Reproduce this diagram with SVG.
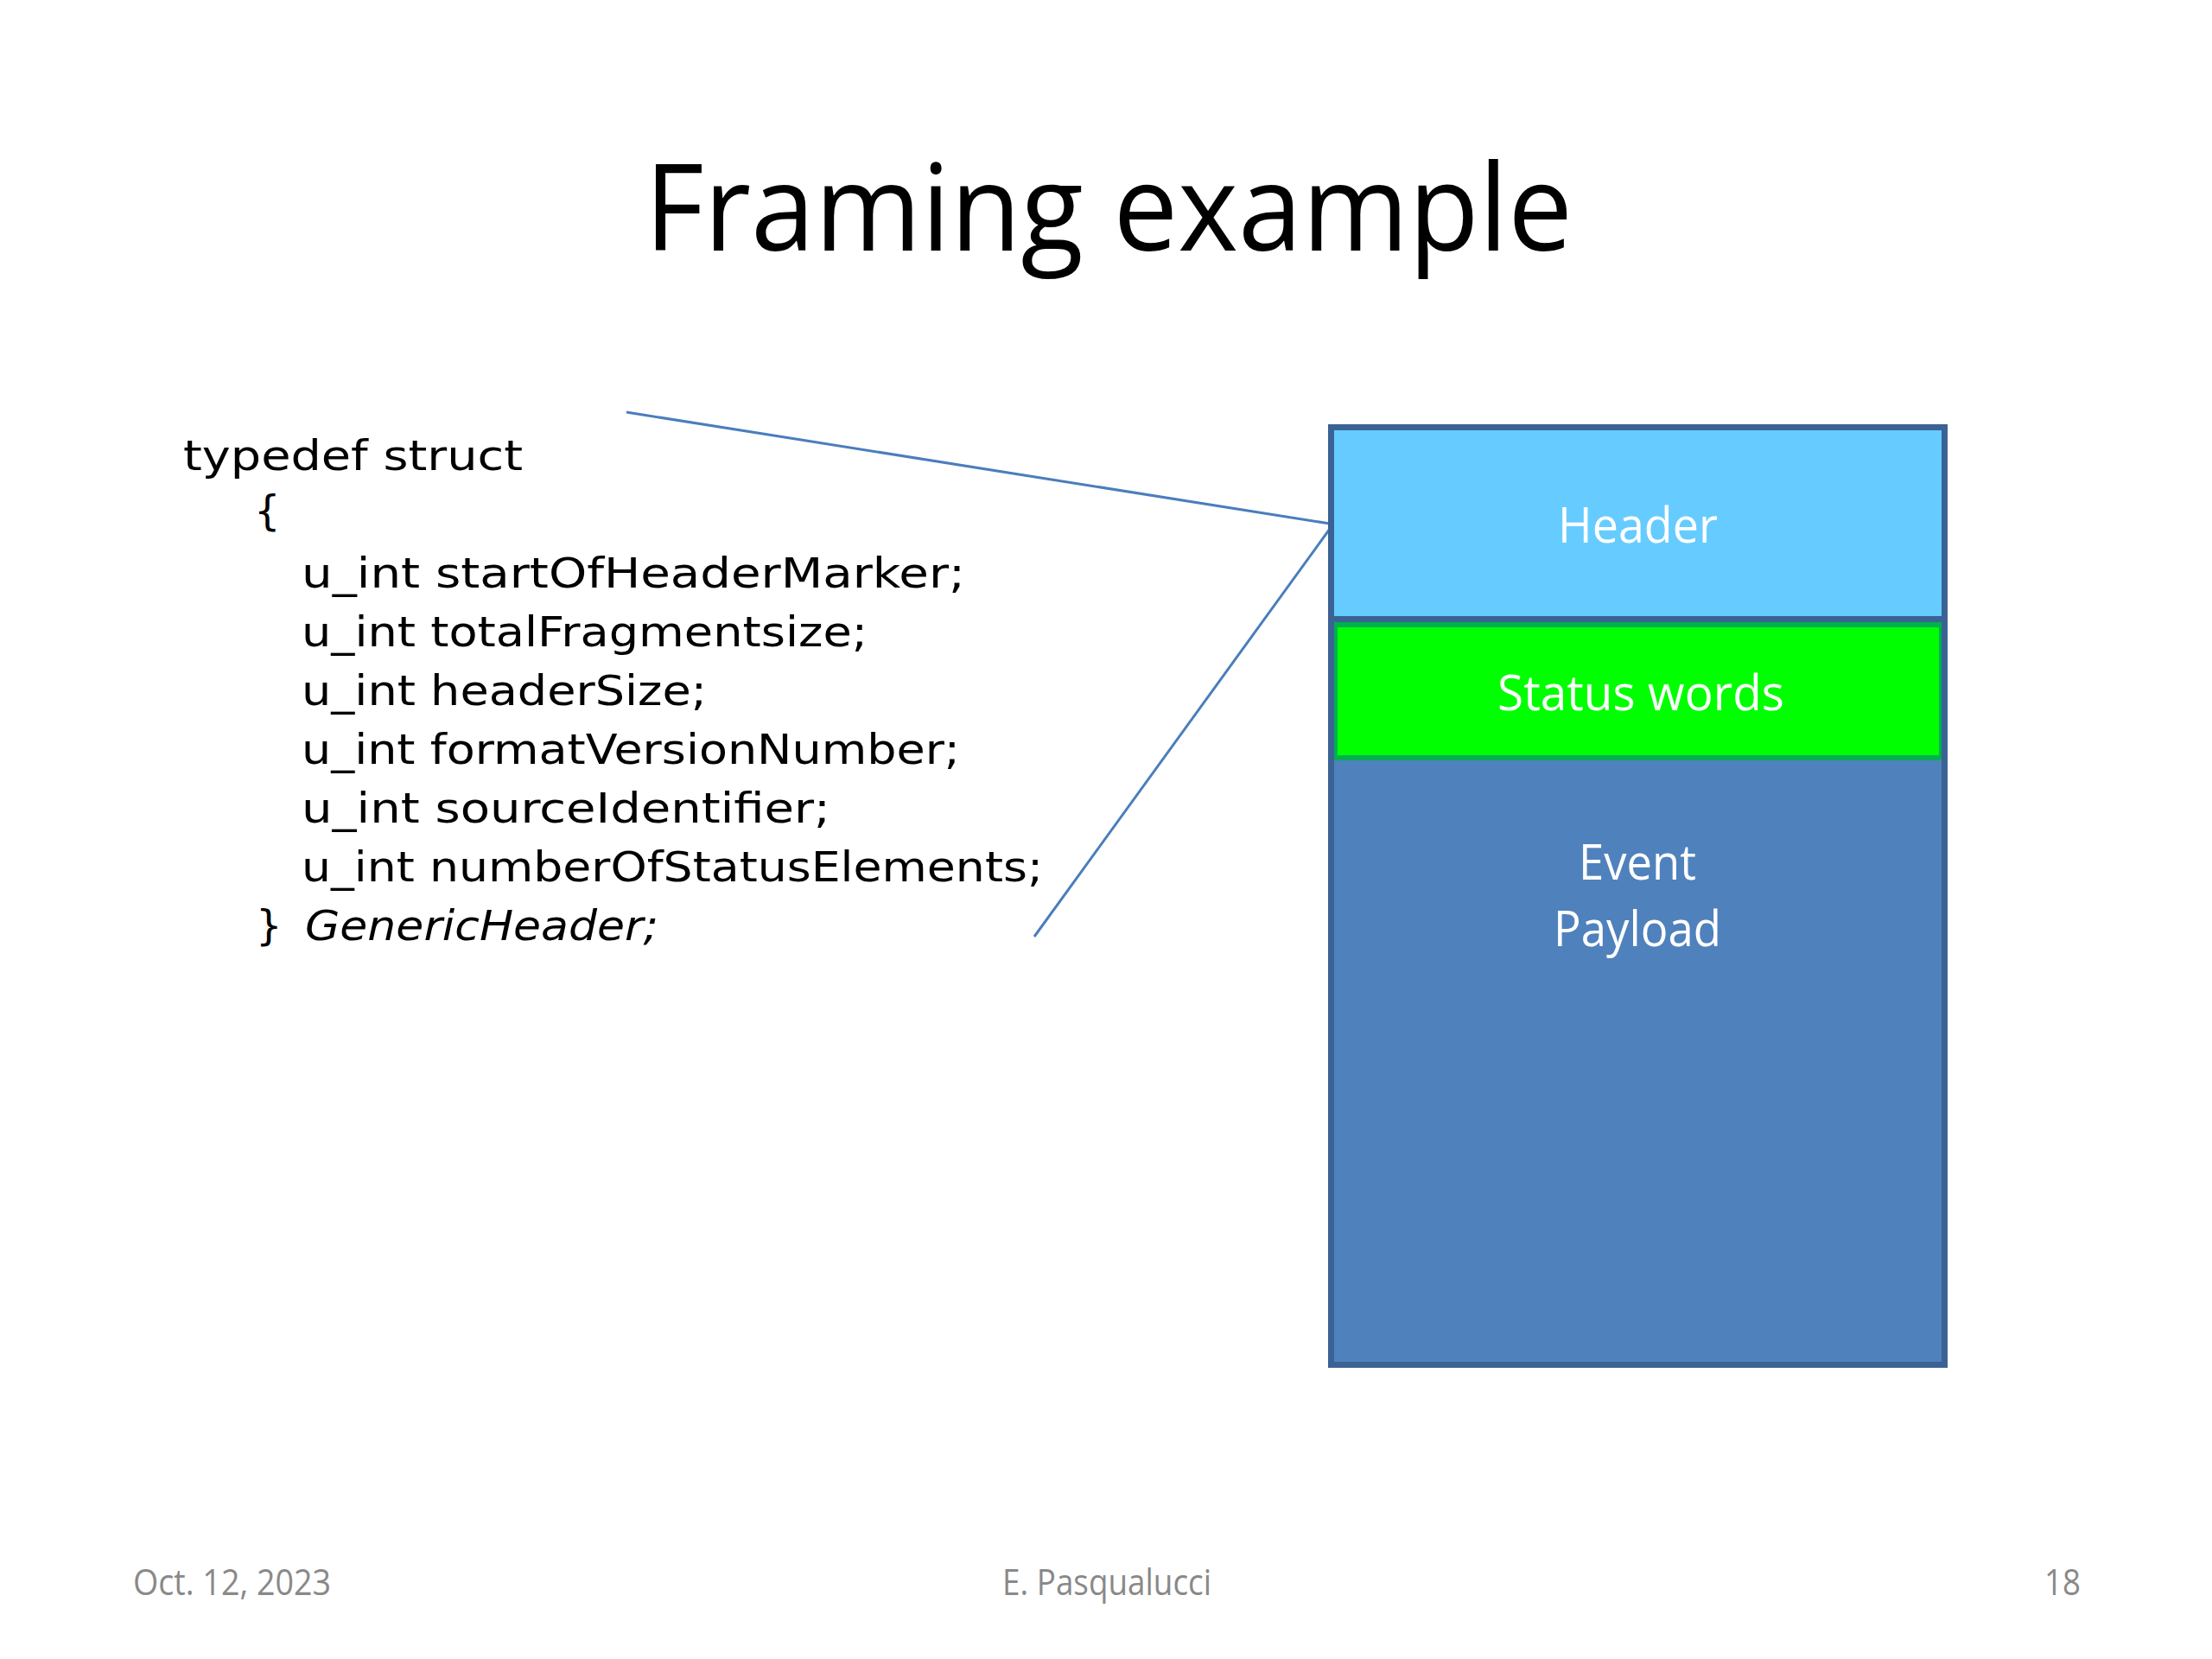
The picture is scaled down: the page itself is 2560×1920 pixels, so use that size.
<svg xmlns="http://www.w3.org/2000/svg" width="2560" height="1920" viewBox="0 0 2560 1920">
  <style>
    .title { font-family: "Open Sans", "Noto Sans", sans-serif; font-size: 140px; fill: #000000; }
    .code { font-family: "DejaVu Sans", "Noto Sans", sans-serif; font-size: 48px; fill: #000000; }
    .label { font-family: "Open Sans", "Noto Sans", sans-serif; font-size: 57px; fill: #ffffff; }
    .foot { font-family: "Open Sans", "Noto Sans", sans-serif; font-size: 42px; fill: #898989; }
    .conn { stroke: #4a7ebb; stroke-width: 3; fill: none; }
  </style>
  <rect x="0" y="0" width="2560" height="1920" fill="#ffffff"/>

  <g id="title">
    <text class="title" x="746" y="290" textLength="1074" lengthAdjust="spacingAndGlyphs">Framing example</text>
  </g>

  <g id="code">
    <text class="code" x="212" y="544" textLength="393" lengthAdjust="spacingAndGlyphs">typedef struct</text>
    <text class="code" x="294" y="608">{</text>
    <text class="code" x="349" y="680" textLength="768" lengthAdjust="spacingAndGlyphs">u_int startOfHeaderMarker;</text>
    <text class="code" x="349" y="748" textLength="655" lengthAdjust="spacingAndGlyphs">u_int totalFragmentsize;</text>
    <text class="code" x="349" y="816" textLength="469" lengthAdjust="spacingAndGlyphs">u_int headerSize;</text>
    <text class="code" x="349" y="884" textLength="762" lengthAdjust="spacingAndGlyphs">u_int formatVersionNumber;</text>
    <text class="code" x="349" y="952" textLength="612" lengthAdjust="spacingAndGlyphs">u_int sourceIdentifier;</text>
    <text class="code" x="349" y="1020" textLength="858" lengthAdjust="spacingAndGlyphs">u_int numberOfStatusElements;</text>
    <text class="code" x="296" y="1088">}</text>
    <text class="code" x="353" y="1088" font-style="italic" textLength="409" lengthAdjust="spacingAndGlyphs">GenericHeader;</text>
  </g>

  <g id="connectors">
    <line class="conn" x1="725" y1="477" x2="1539" y2="606"/>
    <line class="conn" x1="1197" y1="1084" x2="1539" y2="612"/>
  </g>

  <g id="payload">
    <rect x="1540" y="878" width="711" height="702" fill="#4f81bd"/>
    <text class="label" x="1827" y="1018" textLength="136" lengthAdjust="spacingAndGlyphs">Event</text>
    <text class="label" x="1798" y="1095" textLength="194" lengthAdjust="spacingAndGlyphs">Payload</text>
  </g>

  <g id="header">
    <rect x="1540" y="494" width="711" height="222" fill="#66ccff"/>
    <rect x="1540" y="713" width="711" height="10" fill="#3b6294"/>
    <text class="label" x="1803" y="628" textLength="185" lengthAdjust="spacingAndGlyphs">Header</text>
  </g>

  <g id="status-words">
    <rect x="1545" y="723" width="702" height="154" fill="#00ff00" stroke="#00b050" stroke-width="6"/>
    <text class="label" x="1733" y="822" textLength="332" lengthAdjust="spacingAndGlyphs">Status words</text>
  </g>

  <g id="frame">
    <rect x="1540.5" y="494.5" width="710" height="1085" fill="none" stroke="#3b6294" stroke-width="7"/>
  </g>

  <g id="footer">
    <text class="foot" x="154" y="1846" textLength="229" lengthAdjust="spacingAndGlyphs">Oct. 12, 2023</text>
    <text class="foot" x="1160" y="1846" textLength="242" lengthAdjust="spacingAndGlyphs">E. Pasqualucci</text>
    <text class="foot" x="2366" y="1846" textLength="42" lengthAdjust="spacingAndGlyphs">18</text>
  </g>
</svg>
